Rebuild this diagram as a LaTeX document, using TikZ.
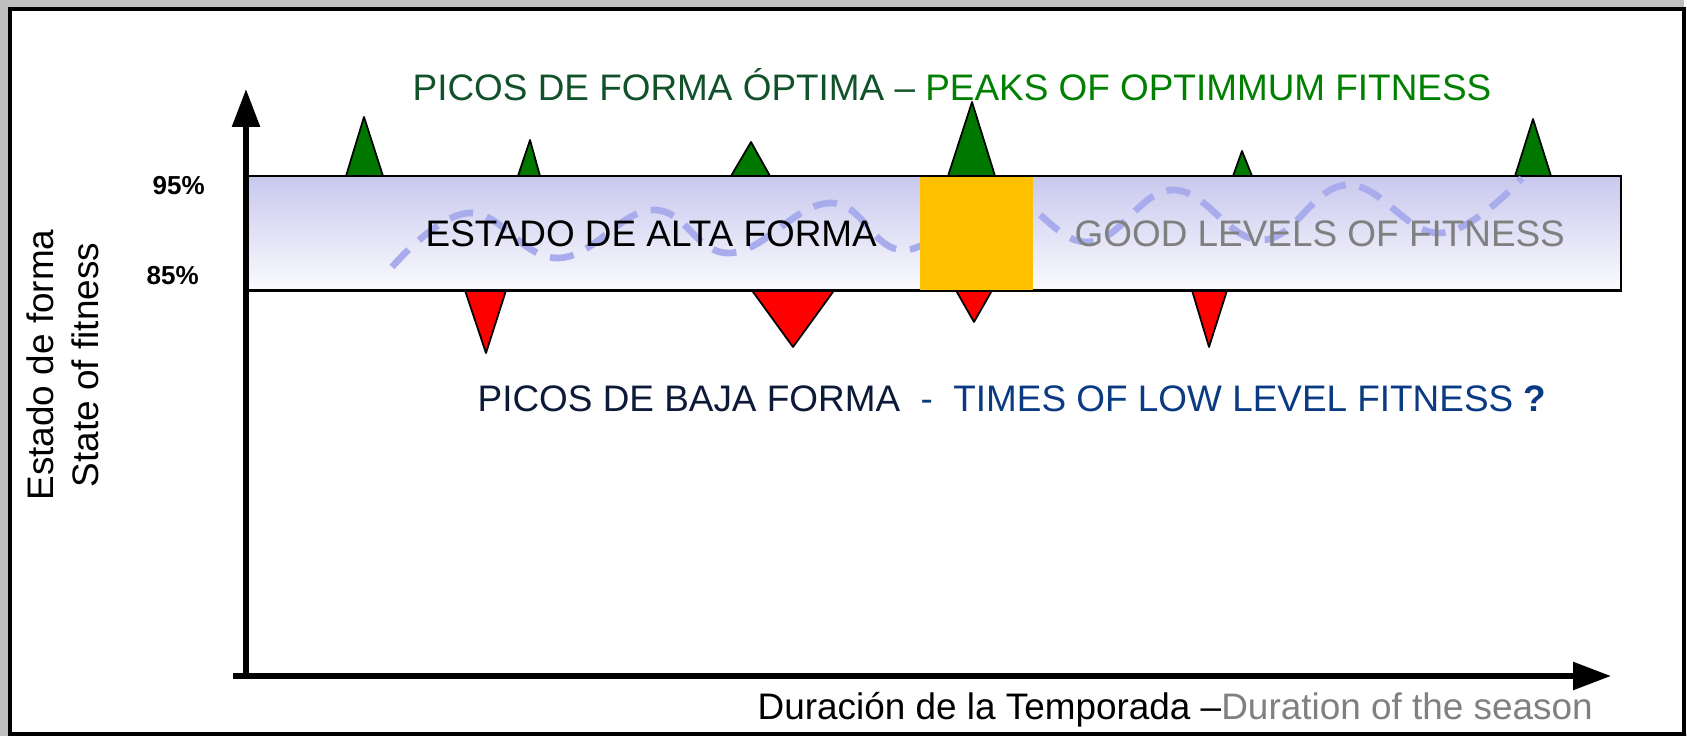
\documentclass[tikz,border=0pt]{standalone}
\usepackage{fontspec}
\setmainfont{Liberation Sans}
\usepackage{tkz-euclide}
\usetikzlibrary{arrows.meta,calc}
\definecolor{PeakClr}{rgb}{0,0.47,0}
\definecolor{LowClr}{rgb}{1,0,0}
\definecolor{BandTopClr}{RGB}{200,200,238}
\definecolor{BandBotClr}{RGB}{251,251,254}
\definecolor{WaveClr}{RGB}{168,172,236}
\definecolor{KeyClr}{RGB}{255,192,0}
\definecolor{TitleClr}{RGB}{18,82,42}
\definecolor{TitleEnClr}{RGB}{0,128,0}
\definecolor{LowEsClr}{RGB}{12,26,56}
\definecolor{LowEnClr}{RGB}{10,58,130}
\definecolor{BackClr}{RGB}{192,192,192}

\begin{document}
\begin{tikzpicture}[txt/.style={inner sep=0pt,font=\fontsize{10.5}{12.8}\selectfont},
  pct/.style={inner sep=0pt,font=\fontsize{7.4}{9}\selectfont\bfseries},
  axis/.style={line width=1.6pt,-{Triangle[length=3.8mm,width=2.7mm]}}]
\tkzSetUpLine[line width=0.5pt,color=black]

\fill[BackClr] (0,0) rectangle (16.87,7.36);
\useasboundingbox (0,0) rectangle (16.87,7.36);
\fill[white] (16.84,0.02) rectangle (16.87,7.36);
\draw[line width=1.1pt,fill=white] (0.097,0.02) rectangle (16.84,7.273);

\tkzDefPoints{2.46/0.57/O,2.33/0.60/X0,16.11/0.60/X1,2.46/6.47/Y1}
\tkzDefPoints{2.47/4.455/B1,16.21/5.60/B2,9.20/4.455/K1,10.33/5.585/K2}

% peaks of fitness
\tkzDefPoints{3.46/5.60/G1a,3.64/6.19/G1b,3.83/5.60/G1c,
  5.18/5.60/G2a,5.30/5.96/G2b,5.40/5.60/G2c,
  7.31/5.60/G3a,7.51/5.94/G3b,7.70/5.60/G3c,
  9.48/5.60/G4a,9.72/6.34/G4b,9.95/5.60/G4c,
  12.33/5.60/G5a,12.42/5.85/G5b,12.52/5.60/G5c,
  15.15/5.60/G6a,15.33/6.17/G6b,15.51/5.60/G6c}
% low points
\tkzDefPoints{4.65/4.455/R1a,4.86/3.83/R1b,5.06/4.455/R1c,
  7.52/4.455/R2a,7.93/3.89/R2b,8.34/4.455/R2c,
  9.56/4.455/R3a,9.74/4.14/R3b,9.92/4.455/R3c,
  11.92/4.455/R4a,12.09/3.89/R4b,12.27/4.455/R4c}

\tkzFillPolygon[fill=PeakClr](G1a,G1b,G1c)
\tkzFillPolygon[fill=PeakClr](G2a,G2b,G2c)
\tkzFillPolygon[fill=PeakClr](G3a,G3b,G3c)
\tkzFillPolygon[fill=PeakClr](G4a,G4b,G4c)
\tkzFillPolygon[fill=PeakClr](G5a,G5b,G5c)
\tkzFillPolygon[fill=PeakClr](G6a,G6b,G6c)
\tkzFillPolygon[fill=LowClr](R1a,R1b,R1c)
\tkzFillPolygon[fill=LowClr](R2a,R2b,R2c)
\tkzFillPolygon[fill=LowClr](R3a,R3b,R3c)
\tkzFillPolygon[fill=LowClr](R4a,R4b,R4c)
\tkzDrawPolygon(G1a,G1b,G1c)
\tkzDrawPolygon(G2a,G2b,G2c)
\tkzDrawPolygon(G3a,G3b,G3c)
\tkzDrawPolygon(G4a,G4b,G4c)
\tkzDrawPolygon(G5a,G5b,G5c)
\tkzDrawPolygon(G6a,G6b,G6c)
\tkzDrawPolygon(R1a,R1b,R1c)
\tkzDrawPolygon(R2a,R2b,R2c)
\tkzDrawPolygon(R3a,R3b,R3c)
\tkzDrawPolygon(R4a,R4b,R4c)

% band of good fitness
\draw[line width=0.6pt,top color=BandTopClr,bottom color=BandBotClr] (B1) rectangle (B2);
\draw[WaveClr,line width=1.9pt,dash pattern=on 2.4mm off 1.4mm]
  plot[smooth,tension=0.7] coordinates {(3.92,4.69) (4.69,5.23) (5.58,4.78) (6.53,5.26)
  (7.30,4.83) (8.30,5.33) (9.05,4.86) (10.0,5.40) (10.88,4.94) (11.73,5.46)
  (12.62,4.96) (13.47,5.51) (14.40,5.03) (15.22,5.58)};
\fill[KeyClr] (K1) rectangle (K2);

\node[txt,anchor=base west] (title) at (4.12,6.35) {\textcolor{TitleClr}{PICOS DE FORMA ÓPTIMA –} \textcolor{TitleEnClr}{PEAKS OF OPTIMMUM FITNESS}};
\node[txt,anchor=base west] (high) at (4.25,4.89) {ESTADO DE ALTA FORMA};
\node[txt,anchor=base west,text=gray] (good) at (10.74,4.89) {GOOD LEVELS OF FITNESS};
\node[txt,anchor=base west] (low) at (4.77,3.24) {\textcolor{LowEsClr}{PICOS DE BAJA FORMA}\ \ \textcolor{LowEnClr}{-\ \ TIMES OF LOW LEVEL FITNESS \textbf{?}}};
\node[txt,anchor=base west] (xlbl) at (7.57,0.17) {Duración de la Temporada –\textcolor{gray}{Duration of the season}};
\node[txt,rotate=90,align=center] (ylbl) at (0.63,3.71) {Estado de forma\\State of fitness};
\node[pct,anchor=base west] (p95) at (1.52,5.41) {95\%};
\node[pct,anchor=base west] (p85) at (1.46,4.51) {85\%};

\draw[axis] (X0) -- (X1);
\draw[axis] (O) -- (Y1);

\end{tikzpicture}
\end{document}
